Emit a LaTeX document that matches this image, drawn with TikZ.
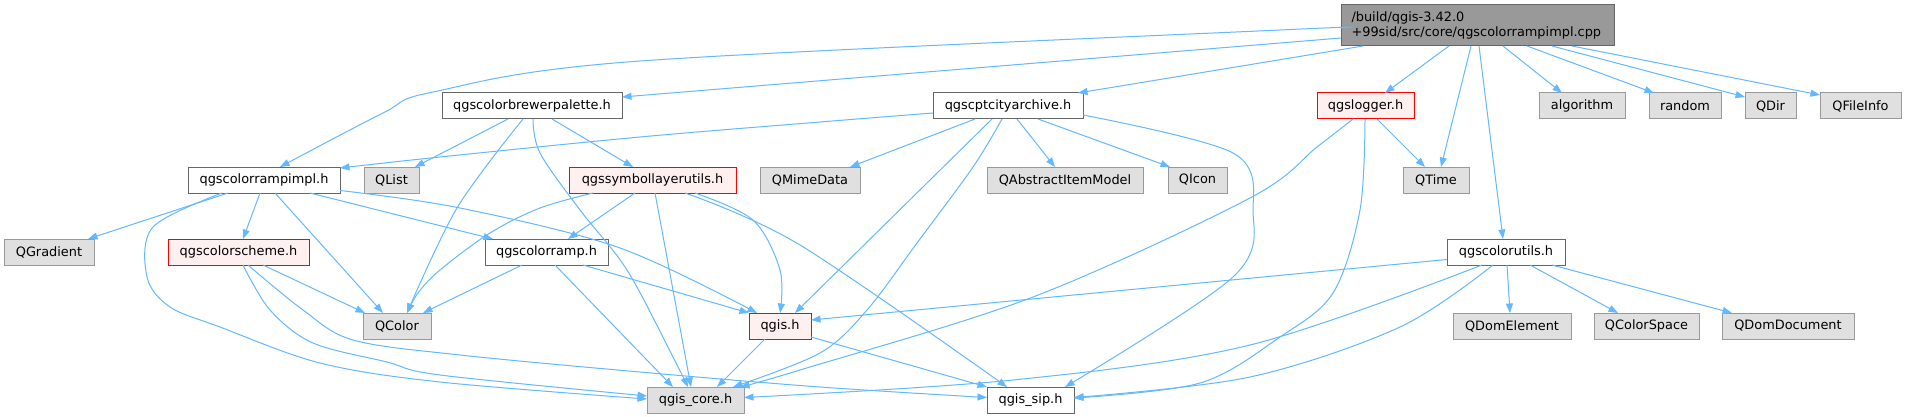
\documentclass[tikz,border=0pt]{standalone}
\usepackage{fontspec}
\setmainfont{DejaVu Sans}
\usetikzlibrary{arrows.meta}
\definecolor{edgec}{HTML}{63B8FF}
\definecolor{bordN}{HTML}{666666}
\definecolor{bordE}{HTML}{999999}
\definecolor{fillE}{HTML}{E0E0E0}
\definecolor{fillR}{HTML}{FFF0F0}
\definecolor{bordR}{HTML}{FF0000}
\definecolor{fillT}{HTML}{999999}
\begin{document}
\begin{tikzpicture}[x=1pt,y=-1pt,
  font=\fontsize{12.9}{15}\selectfont,
  every node/.style={inner sep=0pt, outer sep=0pt, anchor=north west, minimum height=26pt},
  nbox/.style={draw=bordN, fill=white, line width=1pt},
  extbox/.style={draw=bordE, fill=fillE, line width=1pt},
  redbox/.style={draw=bordR, fill=fillR, line width=1pt},
  topbox/.style={draw=bordN, fill=fillT, line width=1pt, align=left, text width=252pt},
  e/.style={draw=edgec, line width=1pt, -{Triangle[length=9.5pt,width=7pt]}},
  sm/.style={smooth, tension=0.55}
]
\fill[white] (0,0) rectangle (1905,417);
\useasboundingbox (0,0) rectangle (1905,417);

% nodes
\node[topbox, minimum width=273pt, minimum height=41pt] (T) at (1341,5) {/build/qgis-3.42.0\\+99sid/src/core/qgscolorrampimpl.cpp};
\node[nbox, minimum width=180pt] (CB) at (442,93) {qgscolorbrewerpalette.h};
\node[nbox, minimum width=150pt] (CA) at (933,93) {qgscptcityarchive.h};
\node[redbox, minimum width=97pt] (L) at (1317,93) {qgslogger.h};
\node[extbox, minimum width=86pt] (ALG) at (1539,93) {algorithm};
\node[extbox, minimum width=72pt] (RND) at (1649,93) {random};
\node[extbox, minimum width=51pt] (QDir) at (1745,93) {QDir};
\node[extbox, minimum width=81pt] (QFI) at (1820,93) {QFileInfo};
\node[nbox, minimum width=152pt] (CI) at (188,167) {qgscolorrampimpl.h};
\node[extbox, minimum width=55pt] (QList) at (364,167) {QList};
\node[redbox, minimum width=167pt] (SU) at (569,167) {qgssymbollayerutils.h};
\node[extbox, minimum width=100pt] (QMD) at (760,167) {QMimeData};
\node[extbox, minimum width=156pt] (QAIM) at (987,167) {QAbstractItemModel};
\node[extbox, minimum width=59pt] (QIcon) at (1168,167) {QIcon};
\node[extbox, minimum width=66pt] (QTime) at (1403,167) {QTime};
\node[extbox, minimum width=90pt] (QGr) at (4,239) {QGradient};
\node[redbox, minimum width=141pt] (CS) at (168,239) {qgscolorscheme.h};
\node[nbox, minimum width=123pt] (CR) at (485,239) {qgscolorramp.h};
\node[nbox, minimum width=118pt] (CU) at (1447,239) {qgscolorutils.h};
\node[extbox, minimum width=68pt] (QColor) at (363,313) {QColor};
\node[redbox, minimum width=62pt] (QG) at (749,313) {qgis.h};
\node[extbox, minimum width=118pt] (QDE) at (1453,313) {QDomElement};
\node[extbox, minimum width=105pt] (QCS) at (1594,313) {QColorSpace};
\node[extbox, minimum width=132pt] (QDD) at (1722,313) {QDomDocument};
\node[extbox, minimum width=97pt] (QC) at (647,387) {qgis\_core.h};
\node[nbox, minimum width=87pt] (QS) at (987,387) {qgis\_sip.h};

% edges from the top file
\draw[e] plot[sm] coordinates {([yshift=-23pt]T.north west) (1280,30) (640,61) (433,92) (383,113) ([xshift=92pt]CI.north west)};
\draw[e] ([yshift=-33pt]T.north west) -- ([yshift=-4pt]CB.north east);
\draw[e] ([xshift=22pt]T.south west) -- ([xshift=-5pt]CA.north east);
\draw[e] ([xshift=108pt]T.south west) -- ([xshift=68pt]L.north west);
\draw[e] ([xshift=130pt]T.south west) -- ([xshift=38pt]QTime.north west);
\draw[e] ([xshift=138pt]T.south west) -- ([xshift=56pt]CU.north west);
\draw[e] ([xshift=162pt]T.south west) -- ([xshift=23pt]ALG.north west);
\draw[e] ([xshift=186pt]T.south west) -- ([xshift=5pt]RND.north west);
\draw[e] ([xshift=211pt]T.south west) -- ([yshift=-4pt]QDir.north west);
\draw[e] ([xshift=231pt]T.south west) -- ([yshift=-2pt]QFI.north west);

% qgscolorbrewerpalette.h
\draw[e] ([xshift=66pt]CB.south west) -- ([xshift=51pt]QList.north west);
\draw[e] plot[sm] coordinates {([xshift=81pt]CB.south west) (457,208) ([xshift=44pt]QColor.north west)};
\draw[e] plot[sm] coordinates {([xshift=91pt]CB.south west) (540,153) (580,210) (627,270) (673,357) ([xshift=41pt]QC.north west)};
\draw[e] ([xshift=110pt]CB.south west) -- ([xshift=64pt]SU.north west);

% qgscptcityarchive.h
\draw[e] plot[sm] coordinates {([yshift=-20pt]CA.north west) (820,122) (640,137) (440,157) ([yshift=-1pt]CI.north east)};
\draw[e] ([xshift=42pt]CA.south west) -- ([xshift=90pt]QMD.north west);
\draw[e] ([xshift=59pt]CA.south west) -- ([xshift=46pt]QG.north west);
\draw[e] plot[sm] coordinates {([xshift=69pt]CA.south west) (973,167) (917,243) (867,310) (820,353) ([xshift=86pt]QC.north west)};
\draw[e] ([xshift=84pt]CA.south west) -- ([xshift=68pt]QAIM.north west);
\draw[e] ([xshift=105pt]CA.south west) -- ([xshift=2pt]QIcon.north west);
\draw[e] plot[sm] coordinates {([yshift=-22pt]CA.north east) (1233,153) (1253,210) (1233,277) ([xshift=78pt]QS.north west)};

% qgslogger.h
\draw[e] ([xshift=60pt]L.south west) -- ([xshift=22pt]QTime.north west);
\draw[e] plot[sm] coordinates {([xshift=36pt]L.south west) (1317,147) (1250,198) (1033,297) (800,370) ([xshift=93pt]QC.north west)};
\draw[e] plot[sm] coordinates {([xshift=48pt]L.south west) (1360,210) (1333,293) (1280,337) (1200,383) ([yshift=2pt]QS.east)};

% qgscolorrampimpl.h
\draw[e] ([xshift=40pt]CI.south west) -- ([xshift=-6pt]QGr.north east);
\draw[e] plot[sm] coordinates {([xshift=34pt]CI.south west) (153,227) (147,277) (170,307) (220,327) (320,363) (440,382) ([yshift=1pt]QC.west)};
\draw[e] ([xshift=72pt]CI.south west) -- ([xshift=75pt]CS.north west);
\draw[e] ([xshift=87pt]CI.south west) -- ([xshift=20pt]QColor.north west);
\draw[e] ([xshift=122pt]CI.south west) -- ([xshift=8pt]CR.north west);
\draw[e] plot[sm] coordinates {([yshift=-10.5pt]CI.east) (460,208) (620,248) ([xshift=8pt]QG.north west)};

% qgscolorscheme.h
\draw[e] ([xshift=95pt]CS.south west) -- ([xshift=2pt]QColor.north west);
\draw[e] plot[sm] coordinates {([xshift=75pt]CS.south west) (270,310) (313,343) (387,362) (440,375) ([yshift=4pt]QC.west)};
\draw[e] plot[sm] coordinates {([xshift=80pt]CS.south west) (303,310) (353,340) (460,355) (640,372) (820,387) ([yshift=2.5pt]QS.west)};

% qgscolorramp.h
\draw[e] ([xshift=37pt]CR.south west) -- ([xshift=60pt]QColor.north west);
\draw[e] ([xshift=70pt]CR.south west) -- ([xshift=26pt]QC.north west);
\draw[e] ([xshift=98pt]CR.south west) -- (QG.north west);

% qgssymbollayerutils.h
\draw[e] plot[sm] coordinates {([xshift=24pt]SU.south west) (540,208) (490,233) (440,270) (418,293) ([xshift=44pt]QColor.north west)};
\draw[e] ([xshift=66pt]SU.south west) -- ([xshift=83pt]CR.north west);
\draw[e] ([xshift=86pt]SU.south west) -- ([xshift=44pt]QC.north west);
\draw[e] plot[sm] coordinates {([xshift=116pt]SU.south west) (800,245) ([xshift=20pt]QS.north west)};
\draw[e] plot[sm] coordinates {([xshift=126pt]SU.south west) (753,220) (780,270) ([xshift=31pt]QG.north west)};

% qgscolorutils.h
\draw[e] ([yshift=-7.5pt]CU.west) -- ([yshift=6pt]QG.east);
\draw[e] plot[sm] coordinates {([xshift=35pt]CU.south west) (1250,345) (1013,380) ([yshift=2.5pt]QC.east)};
\draw[e] plot[sm] coordinates {([xshift=46pt]CU.south west) (1400,327) (1250,377) ([yshift=2.5pt]QS.east)};
\draw[e] ([xshift=60pt]CU.south west) -- ([xshift=57pt]QDE.north west);
\draw[e] ([xshift=83pt]CU.south west) -- ([xshift=24pt]QCS.north west);
\draw[e] ([xshift=105pt]CU.south west) -- ([xshift=10pt]QDD.north west);

% qgis.h
\draw[e] ([xshift=16pt]QG.south west) -- ([xshift=70pt]QC.north west);
\draw[e] ([yshift=2pt]QG.south east) -- (QS.north west);
\end{tikzpicture}
\end{document}
